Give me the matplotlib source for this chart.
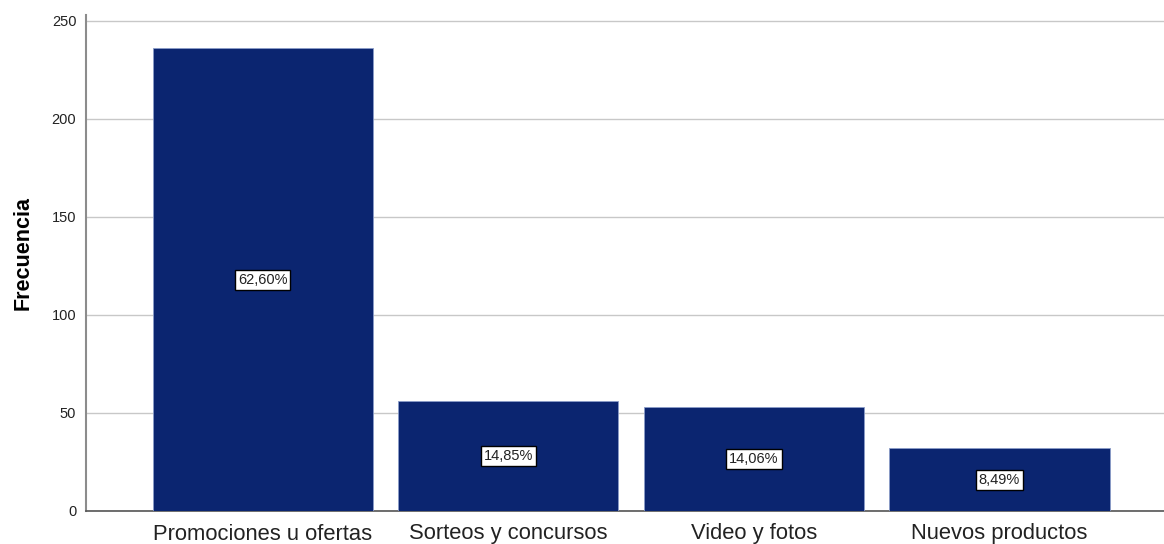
import matplotlib.pyplot as plt

plt.rcParams['font.family'] = ['Liberation Sans', 'DejaVu Sans']

# Frequencies and percent labels
categorias = ["Promociones u ofertas", "Sorteos y concursos", "Video y fotos", "Nuevos productos"]
frecuencias = [236, 56, 53, 32]
porcentajes = ["62,60%", "14,85%", "14,06%", "8,49%"]

fig = plt.figure(figsize=(11.64, 5.44), dpi=100)
ax = fig.add_axes([86 / 1164, 33 / 544, 1 - 86 / 1164, 496 / 544])

x = range(len(categorias))
ax.bar(x, frecuencias, width=0.897, color="#0B2570", edgecolor="#8A9CC8",
       linewidth=0.6, zorder=3)

for i, (f, p) in enumerate(zip(frecuencias, porcentajes)):
    ax.text(i, f / 2, p, ha="center", va="center", fontsize=10.5, zorder=4,
            color="#222222",
            bbox=dict(boxstyle="square,pad=0.2", facecolor="white",
                      edgecolor="black", linewidth=1))

ax.set_xlim(-0.72, 3.67)
ax.set_ylim(0, 253)
ax.set_yticks([0, 50, 100, 150, 200, 250])
ax.yaxis.grid(True, color="#C8C8C8", linewidth=1, zorder=0)
ax.set_axisbelow(True)

ax.set_xticks(list(x))
ax.set_xticklabels(categorias, fontsize=15.8, color="#222222")
ax.tick_params(axis="x", length=0, pad=9)
ax.tick_params(axis="y", length=0, labelsize=10.5, pad=7, labelcolor="#222222")
ax.set_ylabel("Frecuencia", fontsize=15.5, fontweight="bold")
ax.yaxis.set_label_coords(-0.049, 0.52)

ax.spines["top"].set_visible(False)
ax.spines["right"].set_visible(False)
ax.spines["left"].set_color("#8C8C8C")
ax.spines["left"].set_linewidth(1.5)
ax.spines["bottom"].set_color("#555555")
ax.spines["bottom"].set_linewidth(1.2)

fig.savefig("out.png", dpi=100)
